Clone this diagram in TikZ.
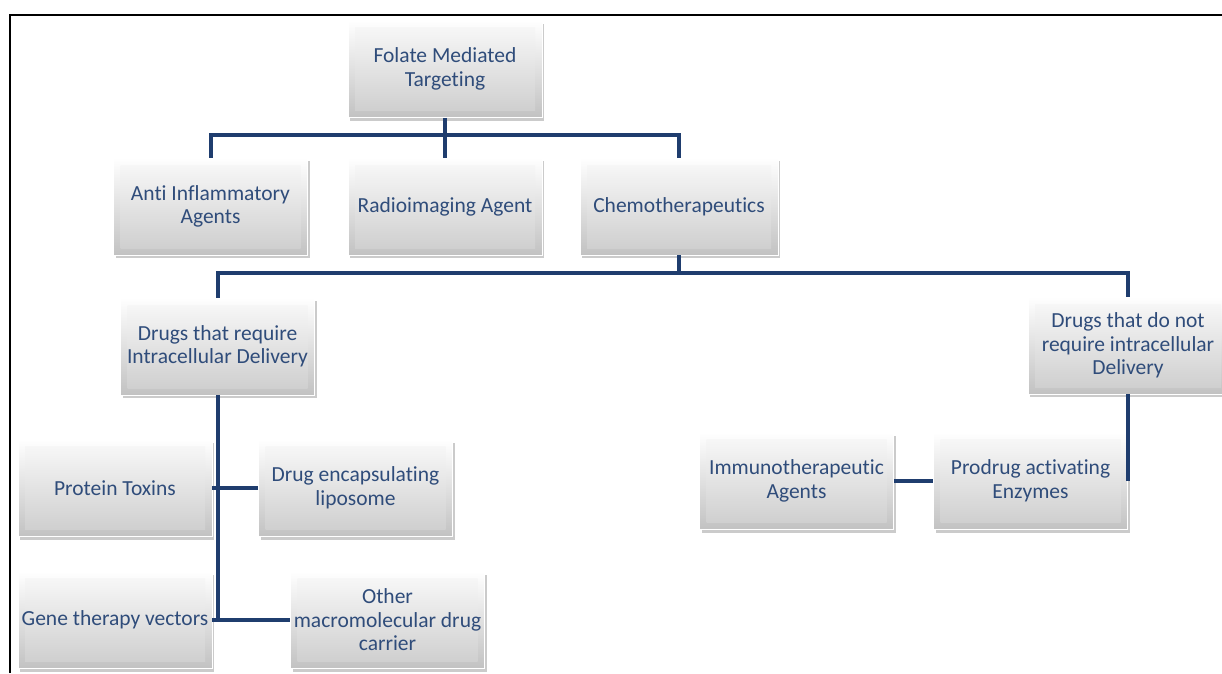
\documentclass[tikz,border=0pt]{standalone}
\usepackage{fontspec}
\setmainfont[RawFeature=-liga]{Carlito}
\usetikzlibrary{shadows}
\definecolor{linec}{RGB}{31,61,110}
\definecolor{txtc}{RGB}{47,76,122}
\begin{document}
\begin{tikzpicture}[x=1pt,y=-1pt,
  box/.style={rectangle, minimum width=194pt, minimum height=97pt, inner sep=0pt,
    top color=white, bottom color=black!24, draw=white, line width=0.6pt,
    drop shadow={shadow xshift=2pt, shadow yshift=-3pt, fill=black!45, opacity=0.45},
    text=txtc, align=center, font=\fontsize{21.5}{23.5}\selectfont,
    path picture={
      \shade[top color=black!2, bottom color=black!20]
        ([shift={(7pt,-7pt)}]path picture bounding box.north west)
        rectangle ([shift={(-7pt,7pt)}]path picture bounding box.south east);
    }},
  conn/.style={draw=linec, line width=4pt}]
\useasboundingbox (0,0) rectangle (1222,673);
\fill[white] (0,0) rectangle (1222,673);
\draw[line width=2pt] (10,673) -- (10,15) -- (1222,15);

\node[box] (fol) at (445,69) {Folate Mediated\\Targeting};
\node[box] (anti) at (210.5,206.5) {Anti Inflammatory\\Agents};
\node[box] (radio) at (445,206.5) {Radioimaging Agent};
\node[box, minimum width=198pt] (chemo) at (679,206.5) {Chemotherapeutics};
\node[box] (dreq) at (217.5,346.5) {Drugs that require\\Intracellular Delivery};
\node[box, minimum width=200pt] (dnot) at (1128,345.5) {Drugs that do not\\require intracellular\\Delivery};
\node[box] (prot) at (115,488) {Protein Toxins};
\node[box] (enc) at (355.5,488) {Drug encapsulating\\liposome};
\node[box] (gene) at (115,620) {Gene therapy vectors};
\node[box] (other) at (387.5,620) {Other\\macromolecular drug\\carrier};
\node[box] (imm) at (796.5,481) {Immunotherapeutic\\Agents};
\node[box] (prod) at (1030.5,481) {Prodrug activating\\Enzymes};

\coordinate (b1) at (445,135);
\coordinate (b2) at (679,273);
\draw[conn] (fol.south) -- (b1);
\draw[conn] (b1) -- (radio.north);
\draw[conn] (anti.north) |- (b1) -| (chemo.north);
\draw[conn] (chemo.south) -- (b2);
\draw[conn] (dreq.north) |- (b2) -| (dnot.north);
\draw[conn] (dreq.south) -- (dreq.south |- gene.east);
\draw[conn] (prot.east) -- (enc.west);
\draw[conn] (gene.east) -- (other.west);
\draw[conn] (dnot.south) -- (dnot.south |- prod.east);
\draw[conn] (imm.east) -- (prod.west);
\end{tikzpicture}
\end{document}
